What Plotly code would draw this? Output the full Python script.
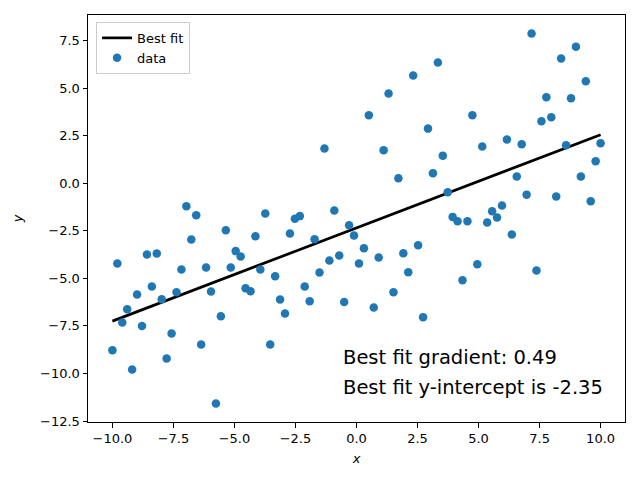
import plotly.graph_objects as go

x_values = [-10.000, -9.798, -9.596, -9.394, -9.192, -8.990, -8.788, -8.586, -8.384, -8.182,
            -7.980, -7.778, -7.576, -7.374, -7.172, -6.970, -6.768, -6.566, -6.364, -6.162,
            -5.960, -5.758, -5.556, -5.354, -5.152, -4.949, -4.747, -4.545, -4.343, -4.141,
            -3.939, -3.737, -3.535, -3.333, -3.131, -2.929, -2.727, -2.525, -2.323, -2.121,
            -1.919, -1.717, -1.515, -1.313, -1.111, -0.909, -0.707, -0.505, -0.303, -0.101,
            0.101, 0.303, 0.505, 0.707, 0.909, 1.111, 1.313, 1.515, 1.717, 1.919,
            2.121, 2.323, 2.525, 2.727, 2.929, 3.131, 3.333, 3.535, 3.737, 3.939,
            4.141, 4.343, 4.545, 4.747, 4.949, 5.152, 5.354, 5.556, 5.758, 5.960,
            6.162, 6.364, 6.566, 6.768, 6.970, 7.172, 7.374, 7.576, 7.778, 7.980,
            8.182, 8.384, 8.586, 8.788, 8.990, 9.192, 9.394, 9.596, 9.798, 10.000]

y_values = [-8.78, -4.22, -7.32, -6.62, -9.79, -5.85, -7.51, -3.75, -5.43, -3.70,
            -6.10, -9.21, -7.90, -5.73, -4.54, -1.21, -2.96, -1.68, -8.48, -4.43,
            -5.69, -11.58, -6.99, -2.47, -4.43, -3.57, -3.85, -5.52, -5.68, -2.79,
            -4.54, -1.59, -8.48, -4.89, -6.11, -6.85, -2.64, -1.87, -1.73, -5.43,
            -6.20, -2.94, -4.69, 1.82, -4.06, -1.44, -3.80, -6.25, -2.21, -2.75,
            -4.22, -3.42, 3.57, -6.53, -3.91, 1.73, 4.71, -5.73, 0.26, -3.68,
            -4.68, 5.66, -3.26, -7.04, 2.87, 0.53, 6.34, 1.45, -0.47, -1.77,
            -2.00, -5.10, -2.00, 3.57, -4.26, 1.93, -2.07, -1.47, -1.80, -1.17,
            2.30, -2.70, 0.35, 2.05, -0.60, 7.87, -4.59, 3.26, 4.52, 3.47,
            -0.70, 6.55, 2.00, 4.47, 7.18, 0.35, 5.36, -0.95, 1.16, 2.10]

fit_gradient = 0.49
fit_intercept = -2.35
fit_x = [x_values[0], x_values[-1]]
fit_y = [fit_gradient * v + fit_intercept for v in fit_x]

x_ticks = [-10.0, -7.5, -5.0, -2.5, 0.0, 2.5, 5.0, 7.5, 10.0]
y_ticks = [-12.5, -10.0, -7.5, -5.0, -2.5, 0.0, 2.5, 5.0, 7.5]

text_lines = ["Best fit gradient: %.2f" % fit_gradient,
              "Best fit y-intercept is %.2f" % fit_intercept]

FONT = "DejaVu Sans"

fig = go.Figure()
fig.add_trace(go.Scatter(x=fit_x, y=fit_y, mode="lines", name="Best fit",
                         line=dict(color="black", width=2.7)))
fig.add_trace(go.Scatter(x=x_values, y=y_values, mode="markers", name="data",
                         marker=dict(color="#1f77b4", size=8.5, line=dict(width=0))))

ymin, ymax = min(y_values), max(y_values)
pad = 0.05 * (ymax - ymin)

axis_common = dict(showline=True, linecolor="black", linewidth=1, mirror=True,
                   ticks="outside", ticklen=4.5, tickwidth=1, tickcolor="black",
                   showgrid=False, zeroline=False,
                   tickfont=dict(family=FONT, size=13, color="black"))

fig.update_xaxes(range=[-11, 11], tickvals=x_ticks, tickformat=".1f",
                 title=dict(text="<i>x</i>", font=dict(family=FONT, size=13, color="black"), standoff=8),
                 **axis_common)
fig.update_yaxes(range=[ymin - pad, ymax + pad], tickvals=y_ticks, tickformat=".1f",
                 title=dict(text="<i>y</i>", font=dict(family=FONT, size=13, color="black"), standoff=14),
                 **axis_common)

fig.add_annotation(x=-0.62, y=-9.15, xref="x", yref="y", text=text_lines[0], showarrow=False,
                   xanchor="left", yanchor="middle", font=dict(family=FONT, size=19.5, color="black"))
fig.add_annotation(x=-0.62, y=-10.72, xref="x", yref="y", text=text_lines[1], showarrow=False,
                   xanchor="left", yanchor="middle", font=dict(family=FONT, size=19.5, color="black"))

fig.update_layout(
    width=640, height=480,
    margin=dict(l=80, r=23, t=7, b=66),
    plot_bgcolor="white", paper_bgcolor="white",
    font=dict(family=FONT, size=13, color="black"),
    legend=dict(x=0.015, y=0.983, xanchor="left", yanchor="top",
                bgcolor="rgba(255,255,255,0.8)", bordercolor="#cccccc", borderwidth=1,
                font=dict(family=FONT, size=13, color="black"),
                tracegroupgap=2),
    showlegend=True,
)

fig.write_html("out.html")
